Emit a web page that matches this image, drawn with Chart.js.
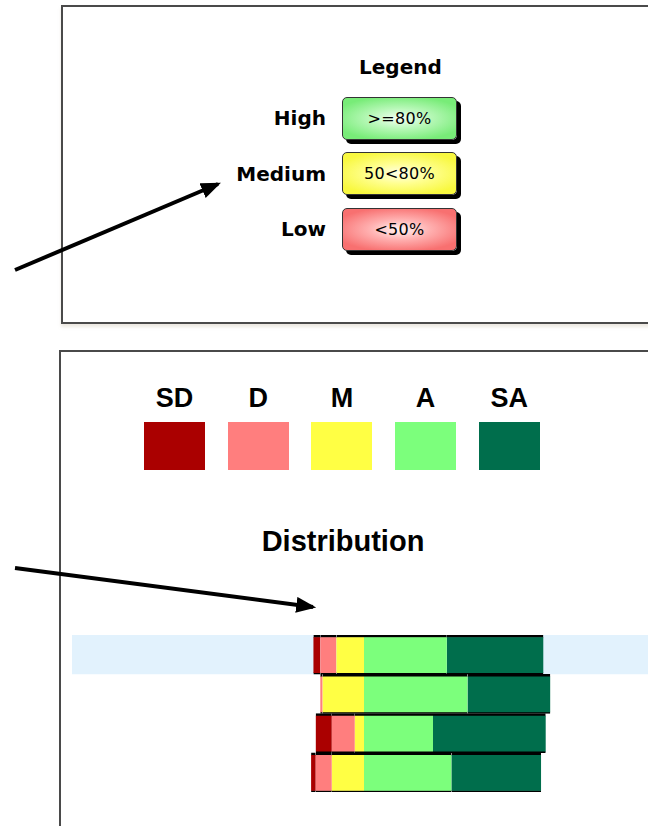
<!DOCTYPE html>
<html>
<head>
<meta charset="utf-8">
<script src="https://cdn.jsdelivr.net/npm/chart.js@4/dist/chart.umd.min.js"></script>
<style>
  html, body { margin:0; padding:0; background:#fff; width:648px; height:826px; overflow:hidden; position:relative; }
  .panel { position:absolute; border:2px solid #4a4a4a; background:#fff; box-sizing:border-box; }
  .lbl { position:absolute; font-family:"DejaVu Sans", Verdana, sans-serif; font-weight:bold; color:#000; white-space:nowrap; }
  .box { position:absolute; width:115px; height:43px; border:1px solid #333; border-radius:5px; box-sizing:border-box;
         box-shadow:4px 4px 0 #000; font-family:"DejaVu Sans", Verdana, sans-serif; font-size:16px; letter-spacing:0.3px;
         display:flex; align-items:center; justify-content:center; color:#000; }
  .cat { position:absolute; font-family:"Liberation Sans", Arial, sans-serif; font-weight:bold; font-size:27px; text-align:center; width:61px; }
  .sw { position:absolute; width:61px; height:48px; }
  #wrap { position:absolute; left:72px; top:635px; width:576px; height:157px; }
</style>
</head>
<body>
<div class="panel" style="left:61px; top:5px; width:600px; height:319px; box-shadow:0 3px 3px rgba(200,190,170,0.35);"></div>
<div class="panel" style="left:59px; top:350px; width:600px; height:500px;"></div>

<div class="lbl" style="left:359px; top:55px; font-size:20px;">Legend</div>
<div class="lbl" style="right:322px; top:106px; font-size:20px;">High</div>
<div class="lbl" style="right:322px; top:162px; font-size:20px;">Medium</div>
<div class="lbl" style="right:322px; top:217px; font-size:20px;">Low</div>
<div class="box" style="left:342px; top:97px; background:radial-gradient(ellipse 60% 55% at 50% 50%, #f4fff4 0%, #b8f8b8 45%, #78ec78 100%);">&gt;=80%</div>
<div class="box" style="left:342px; top:152px; background:radial-gradient(ellipse 60% 55% at 50% 50%, #ffffe8 0%, #ffff90 45%, #f8f840 100%);">50&lt;80%</div>
<div class="box" style="left:342px; top:208px; background:radial-gradient(ellipse 60% 55% at 50% 50%, #fff4f4 0%, #ffb0b0 45%, #f87070 100%);">&lt;50%</div>

<div id="catLegend"></div>
<div class="lbl" style="left:0; width:686px; text-align:center; top:525px; font-family:'Liberation Sans', Arial, sans-serif; font-size:29px;">Distribution</div>

<svg width="648" height="826" style="position:absolute; left:0; top:0; pointer-events:none;">
  <defs>
    <marker id="ah" markerWidth="5" markerHeight="4" refX="4.2" refY="2" orient="auto" markerUnits="strokeWidth">
      <path d="M0,0 L5,2 L0,4 z" fill="#000"/>
    </marker>
  </defs>
  <line x1="15" y1="270" x2="218" y2="184" stroke="#000" stroke-width="4" marker-end="url(#ah)"/>
  <line x1="15" y1="568" x2="313" y2="607" stroke="#000" stroke-width="4" marker-end="url(#ah)"/>
</svg>

<div id="wrap"><canvas id="c" width="576" height="157"></canvas></div>

<script>
// Data (percent of responses per row)
const rows = ['Row 1', 'Row 2', 'Row 3', 'Row 4'];
const seriesNames = ['SD', 'D', 'M', 'A', 'SA'];
const seriesColors = ['#aa0000', '#ff7e7e', '#ffff44', '#7cff7c', '#006e4c'];
const sdValues = [3, 0, 7, 2];
const dValues  = [7, 1, 10, 7];
const mValues  = [12, 18, 4, 14];
const aValues  = [36, 45, 30, 38];
const saValues = [42, 36, 49, 39];
const highlightRow = 0;

// Category legend (HTML)
const catLegend = document.getElementById('catLegend');
seriesNames.forEach((name, i) => {
  const x = 144 + i * 83.7;
  const t = document.createElement('div');
  t.className = 'cat'; t.textContent = name;
  t.style.left = x + 'px'; t.style.top = '383px';
  catLegend.appendChild(t);
  const s = document.createElement('div');
  s.className = 'sw'; s.style.left = x + 'px'; s.style.top = '422px';
  s.style.background = seriesColors[i];
  catLegend.appendChild(s);
});

const neg = arr => arr.map(v => -v);
const border = { top: 2.5, bottom: 1.5, left: 0, right: 0 };
function ds(label, data, color) {
  return { label, data, backgroundColor: color, borderColor: '#000', borderWidth: border,
           borderSkipped: false, barPercentage: 1, categoryPercentage: 1 };
}

const bandPlugin = {
  id: 'band',
  beforeDatasetsDraw(chart) {
    const { ctx, chartArea, scales } = chart;
    const y = scales.y;
    const c = y.getPixelForValue(highlightRow);
    const half = (y.getPixelForValue(1) - y.getPixelForValue(0)) / 2;
    ctx.save();
    ctx.fillStyle = '#e2f2fd';
    ctx.fillRect(chartArea.left, c - half, chartArea.right - chartArea.left, 2 * half);
    ctx.restore();
  }
};

new Chart(document.getElementById('c'), {
  type: 'bar',
  data: {
    labels: rows,
    datasets: [
      ds('M', neg(mValues), seriesColors[2]),
      ds('D', neg(dValues), seriesColors[1]),
      ds('SD', neg(sdValues), seriesColors[0]),
      ds('A', aValues, seriesColors[3]),
      ds('SA', saValues, seriesColors[4])
    ]
  },
  options: {
    indexAxis: 'y',
    responsive: false,
    animation: false,
    layout: { padding: 0 },
    scales: {
      x: { stacked: true, display: false, min: -292 / 2.3, max: 284 / 2.3 },
      y: { stacked: true, display: false }
    },
    plugins: { legend: { display: false }, tooltip: { enabled: false } }
  },
  plugins: [bandPlugin]
});
</script>
</body>
</html>
